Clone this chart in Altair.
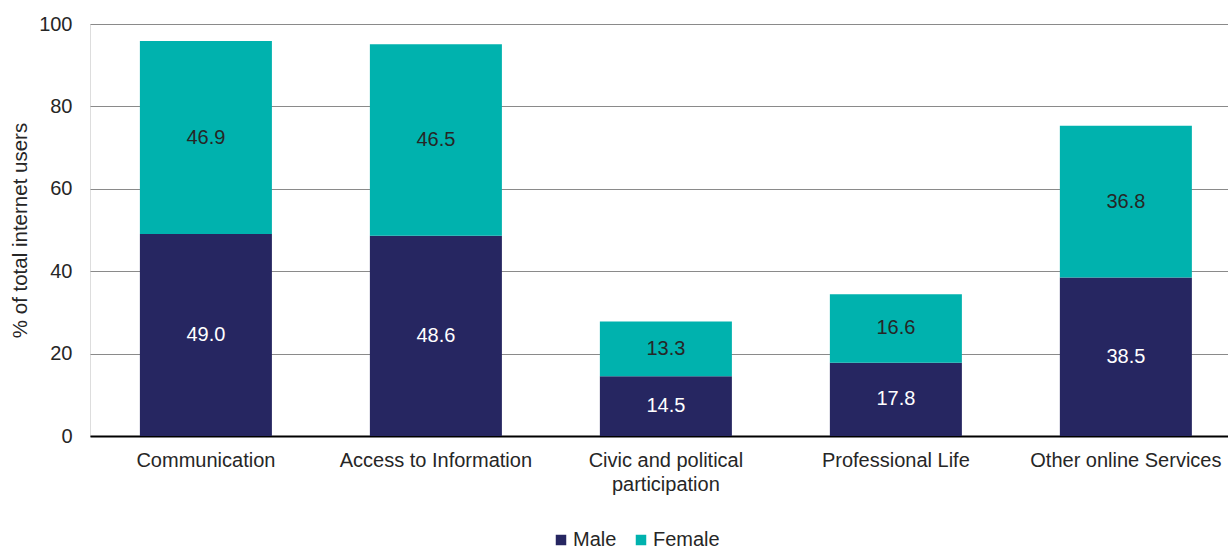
import altair as alt
import pandas as pd

categories = ["Communication", "Access to Information", "Civic and political|participation",
              "Professional Life", "Other online Services"]
male = [49.0, 48.6, 14.5, 17.8, 38.5]
female = [46.9, 46.5, 13.3, 16.6, 36.8]
series = ["Male", "Female"]
colors = ["#262661", "#00B2AE"]
text_colors = ["#FFFFFF", "#262626"]

rows = []
for i, c in enumerate(categories):
    rows.append({"cat": c, "series": "Male", "idx": 0, "value": male[i], "tc": text_colors[0]})
    rows.append({"cat": c, "series": "Female", "idx": 1, "value": female[i], "tc": text_colors[1]})
df = pd.DataFrame(rows)

FONT = "Liberation Sans"
FS = 20

base = alt.Chart(df).transform_stack(
    stack="value", groupby=["cat"], as_=["y0", "y1"], sort=[alt.SortField("idx")]
).transform_calculate(mid="(datum.y0 + datum.y1) / 2")

x = alt.X("cat:N", sort=categories, title=None,
          scale=alt.Scale(paddingInner=0.426, paddingOuter=0.187, align=0.58),
          axis=alt.Axis(labelAngle=0, labelFontSize=FS, labelColor="#262626", labelFont=FONT,
                        labelExpr="split(datum.label, '|')", labelLineHeight=24,
                        labelPadding=14, ticks=False, domainColor="#000000", domainWidth=2,
                        labelBaseline="top", labelLimit=0))

bars = base.mark_bar().encode(
    x=x,
    y=alt.Y("y0:Q", scale=alt.Scale(domain=[0, 100]), title="% of total internet users",
            axis=alt.Axis(values=[0, 20, 40, 60, 80, 100], labelFontSize=FS, labelColor="#262626",
                          labelFont=FONT, titleFont=FONT, titleFontSize=20.5, titleColor="#262626",
                          titleFontWeight="normal", labelPadding=18, titlePadding=8,
                          ticks=False, domain=False, gridColor="#8a8a8a", gridWidth=1)),
    y2="y1:Q",
    color=alt.Color("series:N", scale=alt.Scale(domain=series, range=colors),
                    legend=alt.Legend(title=None, orient="none", direction="horizontal",
                                      legendX=461, legendY=506, symbolType="square",
                                      symbolSize=110, symbolOpacity=1, symbolStrokeWidth=0,
                                      labelFontSize=FS, labelFont=FONT, labelColor="#262626",
                                      columnPadding=14, labelOffset=2)),
)

labels = base.mark_text(fontSize=FS, font=FONT).encode(
    x=alt.X("cat:N", sort=categories),
    y=alt.Y("mid:Q"),
    text=alt.Text("value:Q", format=".1f"),
    color=alt.Color("tc:N", scale=None),
)

chart = (bars + labels).properties(
    width=1138, height=412,
    autosize=alt.AutoSizeParams(type="none"),
    padding={"left": 90, "top": 24, "right": 0, "bottom": 116},
).configure_view(stroke=None).configure(font=FONT, background="white")

chart.save("out.html", embed_options={"renderer": "svg", "actions": False})
